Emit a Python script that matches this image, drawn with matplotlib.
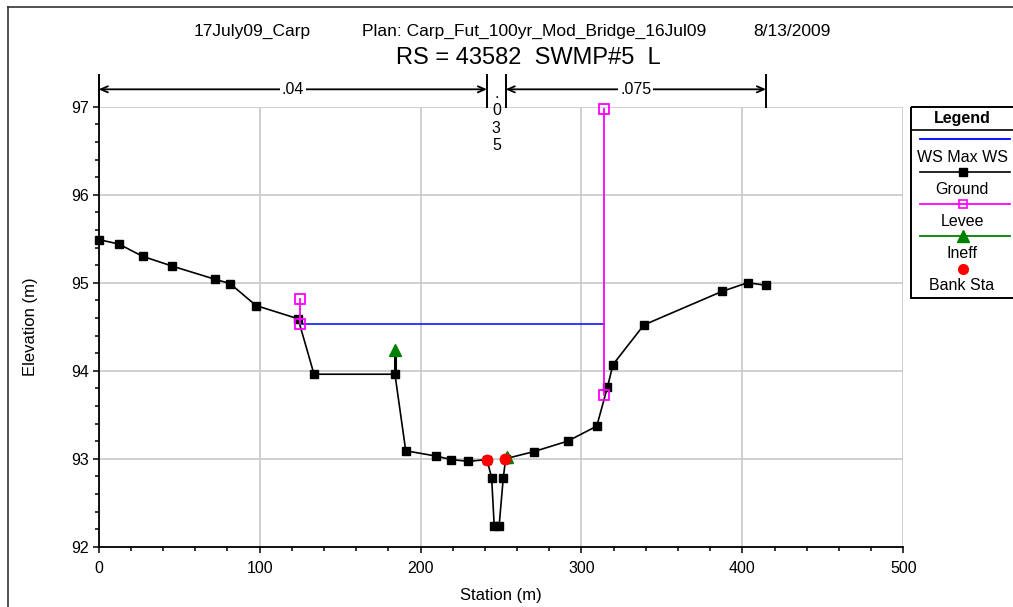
import numpy as np
import matplotlib.pyplot as plt
import matplotlib.transforms as mtransforms
from matplotlib.lines import Line2D
from matplotlib.patches import Rectangle
from matplotlib.ticker import MultipleLocator

plt.rcParams['font.family'] = ['Liberation Sans', 'DejaVu Sans']

# cross-section data
ground_sta = [0.0, 12.4, 27.3, 45.4, 72.1, 81.6, 97.8, 123.9, 133.8, 184.1,
              190.8, 209.6, 219.1, 229.7, 241.3, 244.2, 245.8, 248.8, 251.4,
              252.9, 270.3, 291.5, 309.5, 316.1, 319.6, 338.8, 387.2, 403.3, 414.7]
ground_elev = [95.49, 95.44, 95.30, 95.19, 95.04, 94.99, 94.74, 94.59, 93.96, 93.96,
               93.09, 93.03, 92.99, 92.97, 92.99, 92.78, 92.23, 92.23, 92.78,
               93.00, 93.08, 93.20, 93.37, 93.81, 94.07, 94.52, 94.90, 95.00, 94.97]

ws_sta = [125.1, 314.2]
ws_elev = [94.53, 94.53]

levee_left_sta = [125.1, 125.1]
levee_left_elev = [94.81, 94.53]
levee_right_sta = [314.2, 314.2]
levee_right_elev = [93.72, 96.97]

ineff_sta = [184.1, 253.5]
ineff_elev = [94.24, 93.02]

bank_sta = [241.3, 252.7]
bank_elev = [92.99, 93.00]

n_bounds = [0.0, 241.3, 252.9, 414.7]
n_values = ['.04', '.035', '.075']

title_parts = ['17July09_Carp', 'Plan: Carp_Fut_100yr_Mod_Bridge_16Jul09', '8/13/2009']
subtitle = 'RS = 43582  SWMP#5  L'
legend_labels = ['WS Max WS', 'Ground', 'Levee', 'Ineff', 'Bank Sta']

W, H = 1013, 607
fig = plt.figure(figsize=(W / 100, H / 100), dpi=100)


def fx(px):
    return px / W


def fy(py):
    return 1 - py / H


ax = fig.add_axes([fx(98.7), fy(546.7), (903.3 - 98.7) / W, (546.7 - 106.7) / H])

ax.plot(ws_sta, ws_elev, color='#0000ff', lw=1.1, zorder=3)
ax.plot(ground_sta, ground_elev, color='black', lw=1.2, marker='s', ms=5.5, zorder=4,
        clip_on=False)
for xs, ys in [(levee_left_sta, levee_left_elev), (levee_right_sta, levee_right_elev)]:
    ax.plot(xs, ys, color='#ff00ff', lw=1.3, marker='s', ms=7, mfc='none',
            mec='#ff00ff', mew=1.3, zorder=5, clip_on=False)
stem_base = np.interp(ineff_sta, ground_sta, ground_elev)
ax.vlines(ineff_sta, stem_base, ineff_elev, color='black', lw=2.2, zorder=4)
ax.plot(ineff_sta, ineff_elev, ls='none', marker='^', ms=8, color='#008000', zorder=6)
ax.plot(bank_sta, bank_elev, ls='none', marker='o', ms=7.5, color='#ff0000', zorder=7)

ax.set_xlim(0, 500)
ax.set_ylim(92, 97)
ax.xaxis.set_major_locator(MultipleLocator(100))
ax.xaxis.set_minor_locator(MultipleLocator(20))
ax.yaxis.set_major_locator(MultipleLocator(1))
ax.yaxis.set_minor_locator(MultipleLocator(0.2))
ax.grid(True, which='major', color='#c8c8c8', lw=1.2)
ax.set_axisbelow(True)
for s in ['top', 'right']:
    ax.spines[s].set_visible(False)
for s in ['left', 'bottom']:
    ax.spines[s].set_linewidth(1.3)
ax.tick_params(which='major', direction='out', length=4, width=1.1, labelsize=11.5, pad=3)
ax.tick_params(axis='x', which='major', pad=6)
ax.tick_params(which='minor', direction='out', length=3, width=1.1)
ax.set_xlabel('Station (m)', fontsize=12, labelpad=9)
ax.set_ylabel('Elevation (m)', fontsize=12, labelpad=24)

# Manning's n bars above the plot
trans = mtransforms.blended_transform_factory(ax.transData, ax.transAxes)
for b in n_bounds:
    ax.plot([b, b], [1.0, 1.072], color='black', lw=1.4, transform=trans, clip_on=False)
for i, val in enumerate(n_values):
    x0, x1 = n_bounds[i], n_bounds[i + 1]
    mid = (x0 + x1) / 2
    if x1 - x0 > 30:
        ax.annotate('', xy=(x0, 1.0395), xytext=(x1, 1.0395), xycoords=trans,
                    arrowprops=dict(arrowstyle='<->,head_length=0.5,head_width=0.22',
                                    color='black', lw=1.3, shrinkA=0, shrinkB=0),
                    annotation_clip=False)
        ax.text(mid, 1.0395, val, transform=trans, ha='center', va='center', fontsize=11.5,
                bbox=dict(facecolor='white', edgecolor='none', pad=1.5), clip_on=False)
    else:
        ax.text(mid, 1.046, '\n'.join(val), transform=trans, ha='center', va='top',
                fontsize=11.5, linespacing=1.17, clip_on=False)

# titles
fig.text(fx(252), fy(31), title_parts[0], fontsize=12.5, ha='center', va='center')
fig.text(fx(362), fy(31), title_parts[1], fontsize=12.5, ha='left', va='center')
fig.text(fx(831), fy(31), title_parts[2], fontsize=12.5, ha='right', va='center')
fig.text(fx(528), fy(58), subtitle, fontsize=17, ha='center', va='center')

# outer frame (cut at right and bottom)
fig.add_artist(Line2D([fx(8), fx(8)], [0, fy(7)], transform=fig.transFigure, color='#333333', lw=1.2))
fig.add_artist(Line2D([fx(8), 1], [fy(7), fy(7)], transform=fig.transFigure, color='#333333', lw=1.2))

# legend box
lg = fig.add_axes([fx(910), fy(299), 110 / W, 193 / H])
lg.set_xlim(910, 1020)
lg.set_ylim(299, 106)
lg.axis('off')
lg.add_patch(Rectangle((910.5, 107), 120, 191, fill=False, edgecolor='black', lw=1.4, clip_on=False))
lg.plot([910.5, 1030], [130, 130], color='black', lw=1.2, clip_on=False)
lg.text(962, 118, 'Legend', ha='center', va='center', fontsize=11.5, fontweight='bold')
sample_y = [139, 172, 204, 236, 269]
label_y = [157, 189, 221, 254, 286]
styles = [dict(color='#0000ff', lw=1.3),
          dict(color='black', lw=1.2, marker='s', ms=5.5),
          dict(color='#ff00ff', lw=1.3, marker='s', ms=6, mfc='none', mew=1.2),
          dict(color='#008000', lw=1.3, marker='^', ms=8),
          dict(color='#ff0000', ls='none', marker='o', ms=7)]
for sy, ly, lab, st in zip(sample_y, label_y, legend_labels, styles):
    if st.get('ls') == 'none':
        lg.plot([963], [sy], **st)
    else:
        lg.plot([920, 1010], [sy, sy], markevery=[], **st)
        if 'marker' in st:
            lg.plot([963], [sy], ls='none', **{k: v for k, v in st.items() if k != 'lw'})
    lg.text(962, ly, lab, ha='center', va='center', fontsize=11.5)

fig.savefig('out.png', dpi=100)
